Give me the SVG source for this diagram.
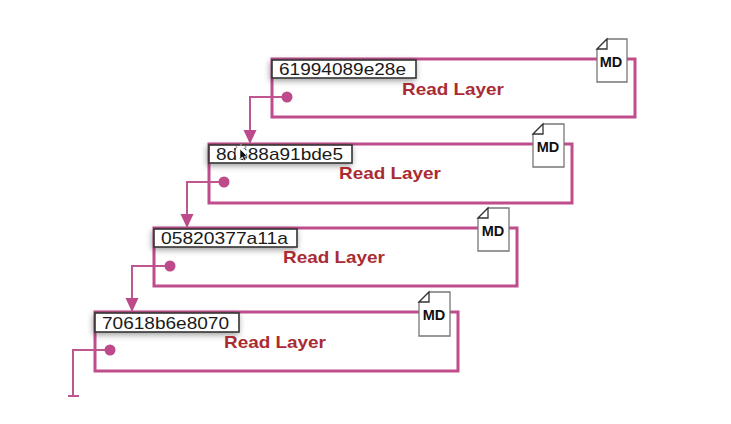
<svg xmlns="http://www.w3.org/2000/svg" width="731" height="424" viewBox="0 0 731 424">
<style>
.frame{fill:none;stroke:#bf4d8c;stroke-width:3}
.conn{fill:none;stroke:#c0568f;stroke-width:2}
.head{fill:#bd4a8a}
.dot{fill:#bd4a8a}
.lbl{fill:#fff;stroke:#333;stroke-width:1.6;filter:url(#sh)}
.id{font:17px "Liberation Sans",Arial,sans-serif;fill:#1a1a1a}
.rl{font:bold 17px "Liberation Sans",Arial,sans-serif;fill:#a92c34}
.doc{fill:#fff;stroke:#777;stroke-width:1.3}
.fold{fill:#fff;stroke:#333;stroke-width:1.3}
.md{font:bold 14.500px "Liberation Sans",Arial,sans-serif;fill:#111;text-anchor:middle}
.spark{fill:#999}
</style>
<defs>
<filter id="sh" x="-15%" y="-60%" width="130%" height="220%"><feDropShadow dx="-1" dy="2" stdDeviation="3" flood-color="#000" flood-opacity="0.4"/></filter>
</defs>
<rect width="731" height="424" fill="#fff"/>
<g id="connectors">
<path class="conn" d="M287 97H250V132"/><path class="head" d="M243.500 130H256.500L250 144Z"/>
<path class="conn" d="M224 182H187V216"/><path class="head" d="M180.500 214H193.500L187 228Z"/>
<path class="conn" d="M170 266H132V300"/><path class="head" d="M125.500 298H138.500L132 312Z"/>
<path class="conn" d="M110 350H73V396M68 396H79"/>
</g>
<g id="layer-1">
<rect class="frame" x="272" y="59" width="363" height="58"/>
<circle class="dot" cx="287" cy="97" r="5.500"/>
<rect class="lbl" x="272" y="60" width="144" height="18"/>
<text class="id" x="279" y="75" textLength="127" lengthAdjust="spacingAndGlyphs">61994089e28e</text>
<text class="rl" x="402" y="95" textLength="102" lengthAdjust="spacingAndGlyphs">Read Layer</text>
<path class="doc" d="M607 39H627V82H597V49Z"/><path class="fold" d="M597 49H607V39Z"/>
<text class="md" x="611" y="67">MD</text>
</g>
<g id="layer-2">
<rect class="frame" x="209" y="144" width="363" height="59"/>
<circle class="dot" cx="224" cy="182" r="5.500"/>
<rect class="lbl" x="209" y="145" width="143" height="18"/>
<text class="id" x="216" y="160" textLength="127" lengthAdjust="spacingAndGlyphs">8d688a91bde5</text>
<text class="rl" x="339" y="179" textLength="102" lengthAdjust="spacingAndGlyphs">Read Layer</text>
<path class="doc" d="M543 124H564V167H533V134Z"/><path class="fold" d="M533 134H543V124Z"/>
<text class="md" x="548" y="152">MD</text>
</g>
<g id="layer-3">
<rect class="frame" x="154" y="228" width="363" height="58"/>
<circle class="dot" cx="170" cy="266" r="5.500"/>
<rect class="lbl" x="154" y="229" width="143" height="18"/>
<text class="id" x="161" y="244" textLength="127" lengthAdjust="spacingAndGlyphs">05820377a11a</text>
<text class="rl" x="283" y="263" textLength="102" lengthAdjust="spacingAndGlyphs">Read Layer</text>
<path class="doc" d="M488 208H509V251H478V218Z"/><path class="fold" d="M478 218H488V208Z"/>
<text class="md" x="493" y="236">MD</text>
</g>
<g id="layer-4">
<rect class="frame" x="95" y="312" width="363" height="59"/>
<circle class="dot" cx="110" cy="350" r="5.500"/>
<rect class="lbl" x="95" y="313" width="144" height="19"/>
<text class="id" x="102" y="329" textLength="127" lengthAdjust="spacingAndGlyphs">70618b6e8070</text>
<text class="rl" x="224" y="348" textLength="102" lengthAdjust="spacingAndGlyphs">Read Layer</text>
<path class="doc" d="M429 292H450V336H419V302Z"/><path class="fold" d="M419 302H429V292Z"/>
<text class="md" x="434" y="320">MD</text>
</g>
<circle cx="241" cy="153" r="5.500" fill="#fff"/>
<g class="spark"><circle cx="241" cy="145" r=".9"/><circle cx="236.500" cy="147" r=".9"/><circle cx="245.500" cy="147" r=".9"/><circle cx="235" cy="151" r=".9"/></g>
<path d="M240 149V159L242.500 157L244 160.500L246 159.500L244.500 156.500L247 156Z" fill="#111" stroke="#fff" stroke-width=".6"/>
</svg>
